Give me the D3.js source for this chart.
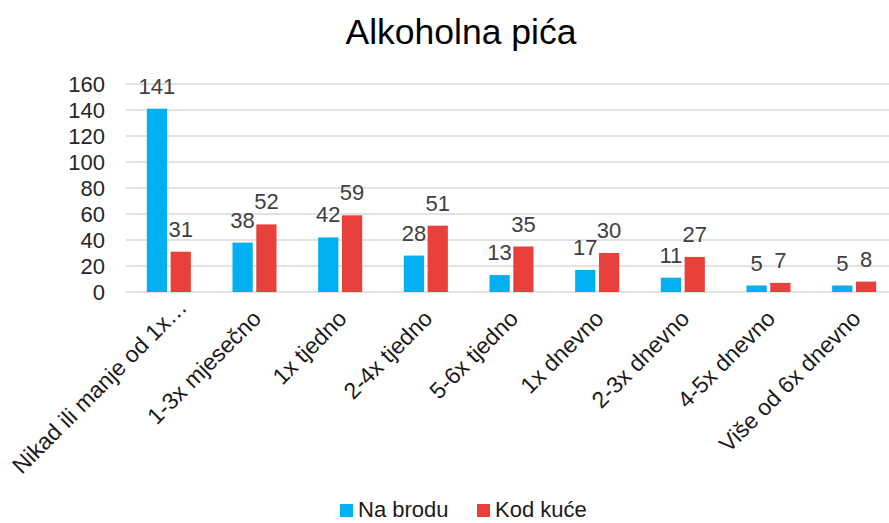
<!DOCTYPE html>
<html>
<head>
<meta charset="utf-8">
<script src="https://cdn.jsdelivr.net/npm/d3@7"></script>
<style>
  body { margin: 0; background: #fff; }
  svg { display: block; font-family: "Liberation Sans", Arial, sans-serif; }
</style>
</head>
<body>
<div id="chart"></div>
<script>
const categories = ['Nikad ili manje od 1x…', '1-3x mjesečno', '1x tjedno', '2-4x tjedno',
  '5-6x tjedno', '1x dnevno', '2-3x dnevno', '4-5x dnevno', 'Više od 6x dnevno']
const seriesNames = ['Na brodu', 'Kod kuće']
const naBrodu = [141, 38, 42, 28, 13, 17, 11, 5, 5]
const kodKuce = [31, 52, 59, 51, 35, 30, 27, 7, 8]
const yTicks = [0, 20, 40, 60, 80, 100, 120, 140, 160]
const colors = ['#00b0f0', '#e8403a']

const width = 889
const height = 523
const margin = { top: 84, left: 126, bottom: 292, right: 897 }

const svg = d3.select('#chart')
  .append('svg')
  .attr('width', width)
  .attr('height', height)

const x0 = d3.scaleBand()
  .domain(categories)
  .range([margin.left, margin.right])
  .paddingInner(0.486)
  .paddingOuter(0.243)

const x1 = d3.scaleBand()
  .domain(seriesNames)
  .range([0, x0.bandwidth()])
  .paddingInner(0.15)

const y = d3.scaleLinear()
  .domain([0, 160])
  .range([margin.bottom, margin.top])

// title
svg.append('text')
  .attr('x', 461)
  .attr('y', 44)
  .attr('text-anchor', 'middle')
  .style('font-size', '35.5px')
  .style('fill', '#000')
  .text('Alkoholna pića')

// gridlines
svg.append('g')
  .selectAll('line')
  .data(yTicks)
  .enter()
  .append('line')
  .attr('x1', margin.left)
  .attr('x2', width)
  .attr('y1', d => y(d))
  .attr('y2', d => y(d))
  .attr('stroke', '#d9d9d9')
  .attr('stroke-width', 1.5)

// y axis labels
const yAxis = svg.append('g')
  .attr('transform', `translate(${margin.left - 8},0)`)
  .call(d3.axisLeft(y).tickValues(yTicks).tickSize(0).tickPadding(13))
yAxis.select('.domain').remove()
yAxis.selectAll('text')
  .style('font-size', '22px')
  .style('font-family', '"Liberation Sans", Arial, sans-serif')
  .style('fill', '#262626')

// bars
const rows = categories.map((c, i) => ({ cat: c, values: [naBrodu[i], kodKuce[i]] }))

const groups = svg.append('g')
  .selectAll('g')
  .data(rows)
  .enter()
  .append('g')
  .attr('transform', d => `translate(${x0(d.cat)},0)`)

groups.selectAll('rect')
  .data(d => d.values.map((v, j) => ({ key: seriesNames[j], value: v, j })))
  .enter()
  .append('rect')
  .attr('x', d => x1(d.key))
  .attr('width', x1.bandwidth())
  .attr('y', d => y(d.value))
  .attr('height', d => y(0) - y(d.value))
  .attr('fill', d => colors[d.j])

// data labels
groups.selectAll('text')
  .data(d => d.values.map((v, j) => ({ key: seriesNames[j], value: v, j })))
  .enter()
  .append('text')
  .attr('x', d => x1(d.key) + x1.bandwidth() / 2)
  .attr('y', d => y(d.value) - 15)
  .attr('text-anchor', 'middle')
  .style('font-size', '22px')
  .style('fill', '#404040')
  .text(d => d.value)

// category labels (the truncated first one sits a little further along its line)
svg.append('g')
  .selectAll('text')
  .data(categories)
  .enter()
  .append('text')
  .attr('transform', d => `translate(${x0(d) + x0.bandwidth() / 2 + 8},${320}) rotate(-45)`)
  .attr('dx', (d, i) => i === 0 ? 16 : 0)
  .attr('text-anchor', 'end')
  .style('font-size', '23px')
  .style('fill', '#1a1a1a')
  .text(d => d)

// legend
const legend = svg.append('g')
  .selectAll('g')
  .data(seriesNames)
  .enter()
  .append('g')
  .attr('transform', (d, i) => `translate(${[340, 477][i]},504)`)

legend.append('rect')
  .attr('width', 13)
  .attr('height', 13)
  .attr('fill', (d, i) => colors[i])

legend.append('text')
  .attr('x', 18)
  .attr('y', 13)
  .style('font-size', '22px')
  .style('fill', '#1a1a1a')
  .text(d => d)
</script>
</body>
</html>
